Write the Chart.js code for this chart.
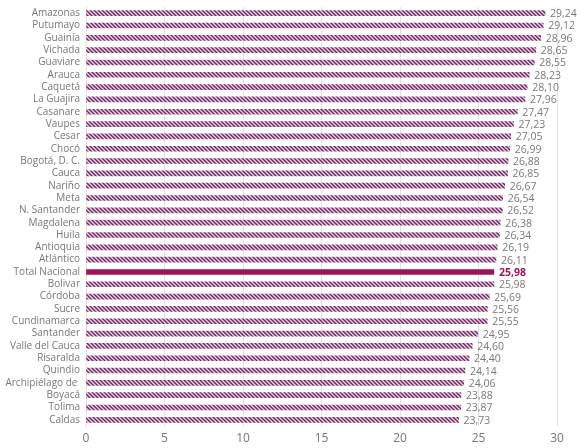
<!DOCTYPE html>
<html>
<head>
<meta charset="utf-8">
<script src="https://cdn.jsdelivr.net/npm/chart.js@4"></script>
<style>
  html, body { margin: 0; padding: 0; background: #fff; }
  #wrap { width: 577px; height: 448px; }
</style>
</head>
<body>
<div id="wrap"><canvas id="chart"></canvas></div>
<script>
const departamentos = ['Amazonas', 'Putumayo', 'Guainía', 'Vichada', 'Guaviare', 'Arauca', 'Caquetá',
  'La Guajira', 'Casanare', 'Vaupes', 'Cesar', 'Chocó', 'Bogotá, D. C.', 'Cauca', 'Nariño', 'Meta',
  'N. Santander', 'Magdalena', 'Huila', 'Antioquia', 'Atlántico', 'Total Nacional', 'Bolivar', 'Córdoba',
  'Sucre', 'Cundinamarca', 'Santander', 'Valle del Cauca', 'Risaralda', 'Quindio', 'Archipiélago de ',
  'Boyacá', 'Tolima', 'Caldas'];
const valores = [29.24, 29.12, 28.96, 28.65, 28.55, 28.23, 28.10, 27.96, 27.47, 27.23, 27.05, 26.99,
  26.88, 26.85, 26.67, 26.54, 26.52, 26.38, 26.34, 26.19, 26.11, 25.98, 25.98, 25.69, 25.56, 25.55,
  24.95, 24.60, 24.40, 24.14, 24.06, 23.88, 23.87, 23.73];
const xTicks = [0, 5, 10, 15, 20, 25, 30];
const totalLabel = 'Total Nacional';

// rayado diagonal para las barras
const pc = document.createElement('canvas');
pc.width = 4; pc.height = 4;
const p = pc.getContext('2d');
p.fillStyle = '#ecd3e6';
p.fillRect(0, 0, 4, 4);
p.strokeStyle = '#6a2660';
p.lineWidth = 1.4;
p.beginPath();
p.moveTo(-1, -1); p.lineTo(5, 5);
p.moveTo(-3, 1); p.lineTo(1, 5);
p.moveTo(3, -1); p.lineTo(5, 1);
p.stroke();
const rayado = document.getElementById('chart').getContext('2d').createPattern(pc, 'repeat');

const colores = departamentos.map(d => d === totalLabel ? '#9b1458' : rayado);

const etiquetas = {
  id: 'etiquetas',
  afterDatasetsDraw(chart) {
    const ctx = chart.ctx;
    const meta = chart.getDatasetMeta(0);
    ctx.save();
    ctx.textBaseline = 'middle';
    meta.data.forEach((bar, i) => {
      const total = departamentos[i] === totalLabel;
      ctx.font = (total ? 'bold ' : '') + '10.5px "Open Sans"';
      ctx.fillStyle = total ? '#9b1458' : '#7a7a7a';
      ctx.fillText(valores[i].toFixed(2).replace('.', ','), bar.x + 5, bar.y + 1);
    });
    ctx.restore();
  }
};

new Chart(document.getElementById('chart'), {
  type: 'bar',
  data: {
    labels: departamentos,
    datasets: [{
      data: valores,
      backgroundColor: colores,
      barThickness: 5,
      borderWidth: 0
    }]
  },
  options: {
    indexAxis: 'y',
    responsive: true,
    maintainAspectRatio: false,
    animation: false,
    layout: { padding: { top: 7, right: 20, left: 0, bottom: 0 } },
    plugins: { legend: { display: false }, tooltip: { enabled: false } },
    scales: {
      x: {
        min: 0,
        max: 30,
        afterBuildTicks: axis => { axis.ticks = xTicks.map(v => ({ value: v })); },
        afterFit: axis => { axis.height -= 4; },
        grid: { color: '#e3e3e3', drawTicks: false },
        border: { display: false },
        ticks: { color: '#777', font: { family: 'Open Sans', size: 12, lineHeight: 1 }, padding: 7 }
      },
      y: {
        grid: { display: false, drawTicks: false },
        border: { color: '#e3e3e3' },
        afterFit: axis => { axis.width = 86; axis.paddingTop = 0; axis.paddingBottom = 0; },
        ticks: {
          color: '#777',
          font: { family: 'Open Sans', size: 10 },
          padding: 6,
          autoSkip: false
        }
      }
    }
  },
  plugins: [etiquetas]
});
</script>
</body>
</html>
